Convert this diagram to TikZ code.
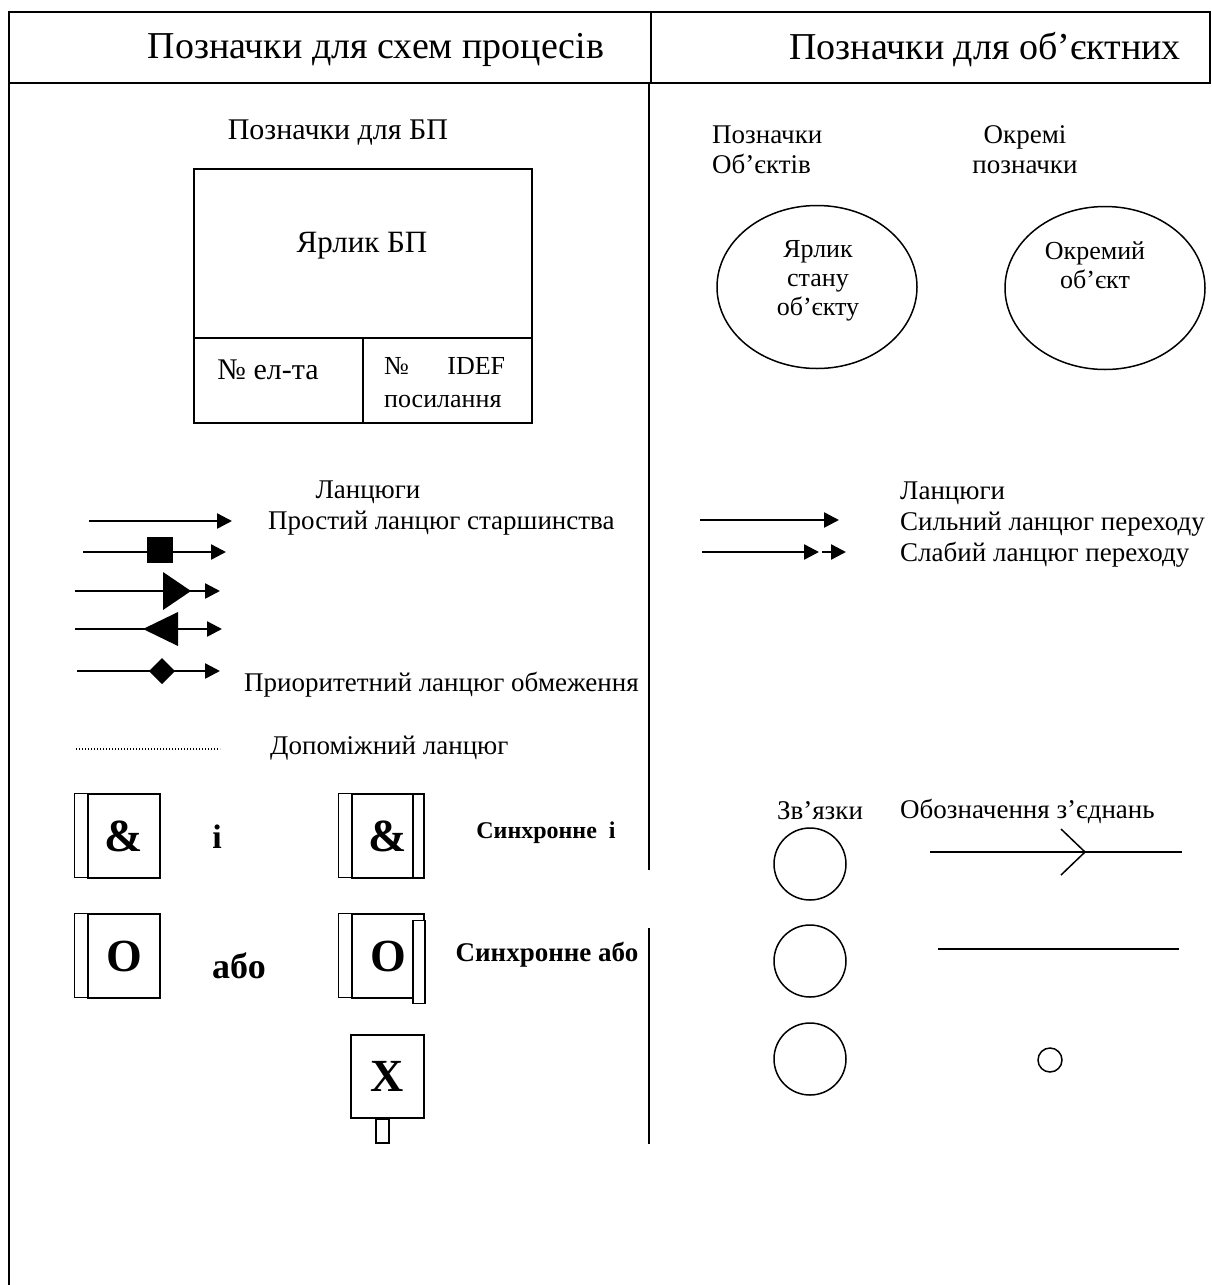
\documentclass[tikz,border=0pt]{standalone}
\usepackage{fontspec}
\setmainfont{Liberation Serif}
\usetikzlibrary{arrows.meta,shapes.geometric}
\tikzset{%
  txt/.style={
    inner sep=0pt,
    font=\fontsize{27}{30}\selectfont
  },
  head/.style={
    inner sep=0pt,
    font=\fontsize{38}{44}\selectfont
  },
  cell/.style={
    draw,
    line width=1.5pt,
    inner sep=0pt
  },
  gate/.style={
    draw,
    line width=1.5pt,
    minimum width=72pt,
    minimum height=84pt,
    inner sep=0pt,
    font=\fontsize{46}{46}\selectfont\bfseries
  },
  chain/.style={
    line width=2.5pt,
    -{Triangle[length=15pt,width=15pt]}
  },
  obj/.style={
    ellipse,
    draw,
    line width=1.5pt,
    minimum width=200pt,
    minimum height=163pt
  },
  rel/.style={
    circle,
    draw,
    line width=1.5pt,
    minimum size=72pt
  },
}

\begin{document}
\begin{tikzpicture}[x=1pt,y=-1pt]
    \useasboundingbox (0,0) rectangle (1211,1285);
    \tikzstyle{frame}=[line width=1.8pt]
    \tikzstyle{bold}=[inner sep=0pt,font=\bfseries]
    \draw[frame] (9,1285) -- (9,12) -- (1210,12) -- (1210,83) -- (9,83);
    \draw[frame] (651,12) -- (651,83);
    \draw[frame] (649,83) -- (649,870);
    \draw[frame] (649,928) -- (649,1144);
    \node[head] (hp) at (376,50) {Позначки для схем процесів};
    \node[head] (ho) at (985,50) {Позначки для об’єктних};

    \node[txt, font=\fontsize{30}{30}\selectfont] (bpt) at (338,133) {Позначки для БП};
    \node[cell, minimum width=338pt, minimum height=169pt] (bp) at (363,253.5) {};
    \node[txt, font=\fontsize{31}{31}\selectfont] (bpl) at (362,246) {Ярлик БП};
    \node[cell, minimum width=169pt, minimum height=85pt] (bpn) at (278.5,380.5) {};
    \node[cell, minimum width=169pt, minimum height=85pt] (bpr) at (447.5,380.5) {};
    \node[txt, font=\fontsize{30}{30}\selectfont] (bpnt) at (268,370) {№ ел-та};
    \node[txt, font=\fontsize{26}{33}\selectfont, text width=121pt, align=left, anchor=west] (bprt) at (384,383) {№\hfill IDEF\\посилання};

    \node[txt, align=left, anchor=west] (pob) at (712,150) {Позначки\\Об’єктів};
    \node[txt, align=center] (okr) at (1025,150) {Окремі\\позначки};
    \node[obj] (st) at (817,287) {};
    \node[txt, align=center, font=\fontsize{26}{29}\selectfont] (stt) at (818,281) {Ярлик\\стану\\об’єкту};
    \node[obj] (ok) at (1105,288) {};
    \node[txt, align=center, font=\fontsize{26}{29}\selectfont] (okt) at (1095,265) {Окремий\\об’єкт};

    \node[txt] (lcl) at (368,492) {Ланцюги};
    \node[txt, anchor=west] (ps) at (268,523) {Простий ланцюг старшинства};
    \coordinate (a1) at (89,521);
    \coordinate (b1) at (232,521);
    \draw[chain] (a1) -- (b1);
    \coordinate (a2) at (83,552);
    \coordinate (b2) at (226,552);
    \coordinate (m2) at (160,550);
    \draw[chain] (a2) -- (b2);
    \fill (m2) ++(-13,-13) rectangle ++(26,26);
    \coordinate (a3) at (75,591);
    \coordinate (b3) at (220,591);
    \coordinate (m3) at (163,591);
    \draw[chain] (a3) -- (b3);
    \fill (m3) -- ++(0,-19) -- ++(28,19) -- ++(-28,19) -- cycle;
    \coordinate (a4) at (75,629);
    \coordinate (b4) at (222,629);
    \coordinate (m4) at (178,629);
    \draw[chain] (a4) -- (b4);
    \fill (m4) -- ++(0,-17) -- ++(-35,17) -- ++(35,17) -- cycle;
    \coordinate (a5) at (77,671);
    \coordinate (b5) at (220,671);
    \coordinate (m5) at (162,671);
    \draw[chain] (a5) -- (b5);
    \fill (m5) ++(-13,0) -- ++(13,-13) -- ++(13,13) -- ++(-13,13) -- cycle;
    \node[txt, anchor=west] (po) at (244,685) {Приоритетний ланцюг обмеження};
    \coordinate (d1) at (76,749);
    \coordinate (d2) at (220,749);
    \draw[line width=1.3pt, dash pattern=on 1.2pt off 1.8pt] (d1) -- (d2);
    \node[txt, anchor=west] (dl) at (270,748) {Допоміжний ланцюг};

    \node[txt, align=left, anchor=west, font=\fontsize{27}{31}\selectfont] (lcr) at (900,525) {Ланцюги\\Сильний ланцюг переходу\\Слабий ланцюг переходу};
    \coordinate (s1) at (700,520);
    \coordinate (s2) at (839,520);
    \draw[chain] (s1) -- (s2);
    \coordinate (w1) at (702,552);
    \coordinate (w2) at (819,552);
    \coordinate (w3) at (822,552);
    \coordinate (w4) at (846,552);
    \draw[chain] (w1) -- (w2);
    \draw[chain] (w3) -- (w4);

    \node[gate] (g1) at (124,836) {\&};
    \draw[line width=1.5pt] (g1.north west) rectangle ++(-13,84);
    \node[bold, font=\fontsize{34}{34}\selectfont\bfseries] (g1t) at (217,837) {і};
    \node[gate] (g2) at (388,836) {\&};
    \draw[line width=1.5pt] (g2.north west) rectangle ++(-13,84);
    \draw[line width=1.5pt] ([xshift=-12pt]g2.north east) -- ([xshift=-12pt]g2.south east);
    \node[bold, font=\fontsize{24}{24}\selectfont\bfseries] (g2t) at (546,833) {Синхронне~~і};
    \node[gate] (g3) at (124,956) {O};
    \draw[line width=1.5pt] (g3.north west) rectangle ++(-13,84);
    \node[bold, font=\fontsize{36}{36}\selectfont\bfseries] (g3t) at (239,966) {або};
    \node[gate] (g4) at (388,956) {O};
    \draw[line width=1.5pt] (g4.north west) rectangle ++(-13,84);
    \draw[line width=1.5pt, fill=white] ([shift={(-12,7)}]g4.north east) rectangle ++(12,83);
    \node[bold, font=\fontsize{27}{27}\selectfont\bfseries] (g4t) at (547,955) {Синхронне або};
    \node[gate, minimum width=73pt, minimum height=83pt] (g5) at (387.5,1076.5) {X};
    \draw[line width=1.5pt] ([xshift=-11.5pt]g5.south) rectangle ++(13,24);

    \node[txt] (zv) at (820,811) {Зв’язки};
    \node[txt, anchor=west] (oz) at (900,811) {Обозначення з’єднань};
    \node[rel] (r1) at (810,864) {};
    \node[rel] (r2) at (810,961) {};
    \node[rel] (r3) at (810,1059) {};
    \coordinate (j1a) at (930,852);
    \coordinate (j1b) at (1182,852);
    \coordinate (j1m) at (1085,852);
    \draw[line width=1.5pt] (j1a) -- (j1b);
    \draw[line width=1.5pt] ([shift={(-24,-23)}]j1m) -- (j1m) -- ([shift={(-24,23)}]j1m);
    \coordinate (j2a) at (938,949);
    \coordinate (j2b) at (1179,949);
    \draw[line width=1.5pt] (j2a) -- (j2b);
    \node[circle, draw, line width=1.5pt, minimum size=24pt, inner sep=0pt] (j3) at (1050,1060) {};
\end{tikzpicture}
\end{document}
